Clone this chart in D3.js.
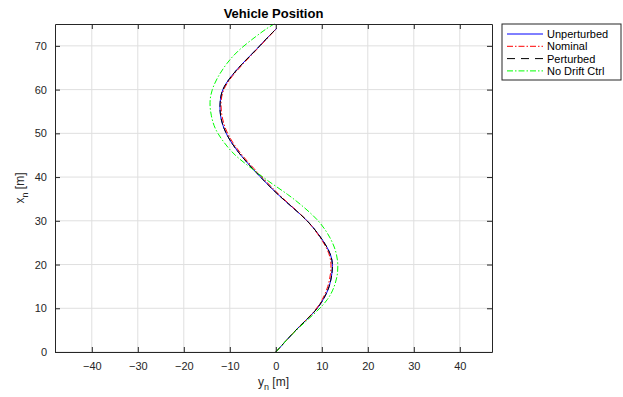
<!DOCTYPE html>
<html lang="en">
<head>
<meta charset="UTF-8" />
<title>Vehicle Position</title>
<style>
  body { margin: 0; background: #fff; }
  svg { font-family: "Liberation Sans", Arial, sans-serif; }
</style>
</head>
<body>
<div id="chart"></div>
<script src="https://d3js.org/d3.v7.min.js"></script>
<script>
const width = 623;
const height = 397;

// north position stations [m]
const xStations = [0, 3, 6, 9, 12, 15, 18, 21, 24, 27, 30, 33, 36, 39, 42, 45, 48, 51, 54, 57, 60, 63, 66, 69, 72, 74];
const xStationsNoDrift = [0, 3, 6, 9, 12, 15, 18, 21, 24, 27, 30, 33, 36, 39, 42, 45, 48, 51, 54, 57, 60, 63, 66, 69, 72, 74, 75];

// east position per series [m]
const yUnperturbed = [0, 2.6, 5.3, 8.2, 10.3, 11.6, 12.2, 12.2, 11.1, 9.2, 6.8, 3.7, 0.5, -2.4, -5.1, -7.6, -9.7, -11.2, -12.0, -12.1, -11.5, -9.7, -7.2, -4.4, -1.7, 0.2];
const yNominal = [0, 2.6, 5.3, 8.1, 10.1, 11.3, 11.9, 11.9, 10.9, 9.1, 6.8, 3.8, 0.7, -2.1, -4.8, -7.3, -9.4, -10.9, -11.7, -11.9, -11.3, -9.5, -7.0, -4.3, -1.6, 0.2];
const yPerturbed = [0, 2.6, 5.3, 8.2, 10.3, 11.6, 12.2, 12.2, 11.1, 9.2, 6.8, 3.7, 0.5, -2.4, -5.1, -7.6, -9.7, -11.2, -12.0, -12.1, -11.5, -9.7, -7.2, -4.4, -1.7, 0.2];
const yNoDrift = [0, 2.6, 5.5, 8.6, 11.2, 12.7, 13.4, 13.4, 12.7, 11.3, 9.2, 6.2, 2.6, -1.5, -5.3, -8.8, -11.3, -13.1, -14.0, -14.3, -13.8, -12.5, -10.6, -8.0, -4.5, -1.9, -0.3];

const seriesNames = ["Unperturbed", "Nominal", "Perturbed", "No Drift Ctrl"];
const xTicks = [-40, -30, -20, -10, 0, 10, 20, 30, 40];
const yTicks = [0, 10, 20, 30, 40, 50, 60, 70];

const series = [
  { name: seriesNames[0], xs: xStations, ys: yUnperturbed, color: "#0000ff", dash: null },
  { name: seriesNames[1], xs: xStations, ys: yNominal, color: "#ff0000", dash: "6,2,1.5,2" },
  { name: seriesNames[2], xs: xStations, ys: yPerturbed, color: "#000000", dash: "6,3" },
  { name: seriesNames[3], xs: xStationsNoDrift, ys: yNoDrift, color: "#00ff00", dash: "6,2,1.5,2" }
];

const margin = { left: 55, right: 131, top: 24, bottom: 45 };

const svg = d3.select("#chart").append("svg")
  .attr("width", width)
  .attr("height", height);

const x = d3.scaleLinear().domain([-48, 47]).range([margin.left, width - margin.right]);
const y = d3.scaleLinear().domain([0, 75]).range([height - margin.bottom, margin.top]);

// grid
svg.append("g").selectAll("line").data(xTicks).join("line")
  .attr("x1", d => x(d)).attr("x2", d => x(d))
  .attr("y1", y(0)).attr("y2", y(75))
  .attr("stroke", "#dfdfdf").attr("stroke-width", 1);
svg.append("g").selectAll("line").data(yTicks).join("line")
  .attr("x1", x(-48)).attr("x2", x(47))
  .attr("y1", d => y(d)).attr("y2", d => y(d))
  .attr("stroke", "#dfdfdf").attr("stroke-width", 1);

// curves
const line = d3.line().x(d => x(d[1])).y(d => y(d[0])).curve(d3.curveNatural);
const plot = svg.append("g");
series.forEach(s => {
  const pts = s.xs.map((v, i) => [v, s.ys[i]]);
  plot.append("path")
    .datum(pts)
    .attr("d", line)
    .attr("fill", "none")
    .attr("stroke", s.color)
    .attr("stroke-width", 1)
    .attr("stroke-dasharray", s.dash);
});

// axes (ticks pointing inward)
const axisColor = "#262626";
const fmt = d3.format("d");
const axBottom = svg.append("g").attr("transform", `translate(0,${y(0)})`)
  .call(d3.axisBottom(x).tickValues(xTicks).tickFormat(fmt).tickSizeInner(-5).tickSizeOuter(0).tickPadding(10));
const axTop = svg.append("g").attr("transform", `translate(0,${y(75)})`)
  .call(d3.axisTop(x).tickValues(xTicks).tickFormat("").tickSizeInner(-5).tickSizeOuter(0));
const axLeft = svg.append("g").attr("transform", `translate(${x(-48)},0)`)
  .call(d3.axisLeft(y).tickValues(yTicks).tickFormat(fmt).tickSizeInner(-5).tickSizeOuter(0).tickPadding(8));
const axRight = svg.append("g").attr("transform", `translate(${x(47)},0)`)
  .call(d3.axisRight(y).tickValues(yTicks).tickFormat("").tickSizeInner(-5).tickSizeOuter(0));

[axBottom, axTop, axLeft, axRight].forEach(g => {
  g.selectAll(".domain").attr("stroke", axisColor).attr("stroke-width", 1);
  g.selectAll(".tick line").attr("stroke", axisColor);
  g.selectAll(".tick text").attr("fill", axisColor)
    .style("font-size", "11px").style("font-family", "'Liberation Sans', Arial, sans-serif");
});

// title
svg.append("text")
  .attr("x", (x(-48) + x(47)) / 2)
  .attr("y", 18)
  .attr("text-anchor", "middle")
  .style("font-size", "13px")
  .style("font-weight", "bold")
  .attr("fill", "#000")
  .text("Vehicle Position");

// axis labels
const xl = svg.append("text")
  .attr("x", (x(-48) + x(47)) / 2)
  .attr("y", 386)
  .attr("text-anchor", "middle")
  .style("font-size", "12px")
  .attr("fill", axisColor);
xl.append("tspan").text("y");
xl.append("tspan").attr("dy", 4).style("font-size", "9px").text("n");
xl.append("tspan").attr("dy", -4).text(" [m]");

const yl = svg.append("text")
  .attr("transform", `translate(24,${(y(0) + y(75)) / 2}) rotate(-90)`)
  .attr("text-anchor", "middle")
  .style("font-size", "12px")
  .attr("fill", axisColor);
yl.append("tspan").text("x");
yl.append("tspan").attr("dy", 4).style("font-size", "9px").text("n");
yl.append("tspan").attr("dy", -4).text(" [m]");

// legend
const legend = svg.append("g").attr("transform", "translate(502,24)");
legend.append("rect")
  .attr("width", 119).attr("height", 56)
  .attr("fill", "#fff").attr("stroke", axisColor).attr("stroke-width", 1);
const rows = legend.selectAll("g").data(series).join("g")
  .attr("transform", (d, i) => `translate(0,${10 + i * 12.3})`);
rows.append("line")
  .attr("x1", 5).attr("x2", 41)
  .attr("stroke", d => d.color).attr("stroke-width", 1)
  .attr("stroke-dasharray", d => d.dash === null ? null : (d.name === "Perturbed" ? "8,6" : "6,2,1.5,2"));
rows.append("text")
  .attr("x", 45).attr("y", 4)
  .style("font-size", "11px")
  .attr("fill", "#000")
  .text(d => d.name);
</script>
</body>
</html>
